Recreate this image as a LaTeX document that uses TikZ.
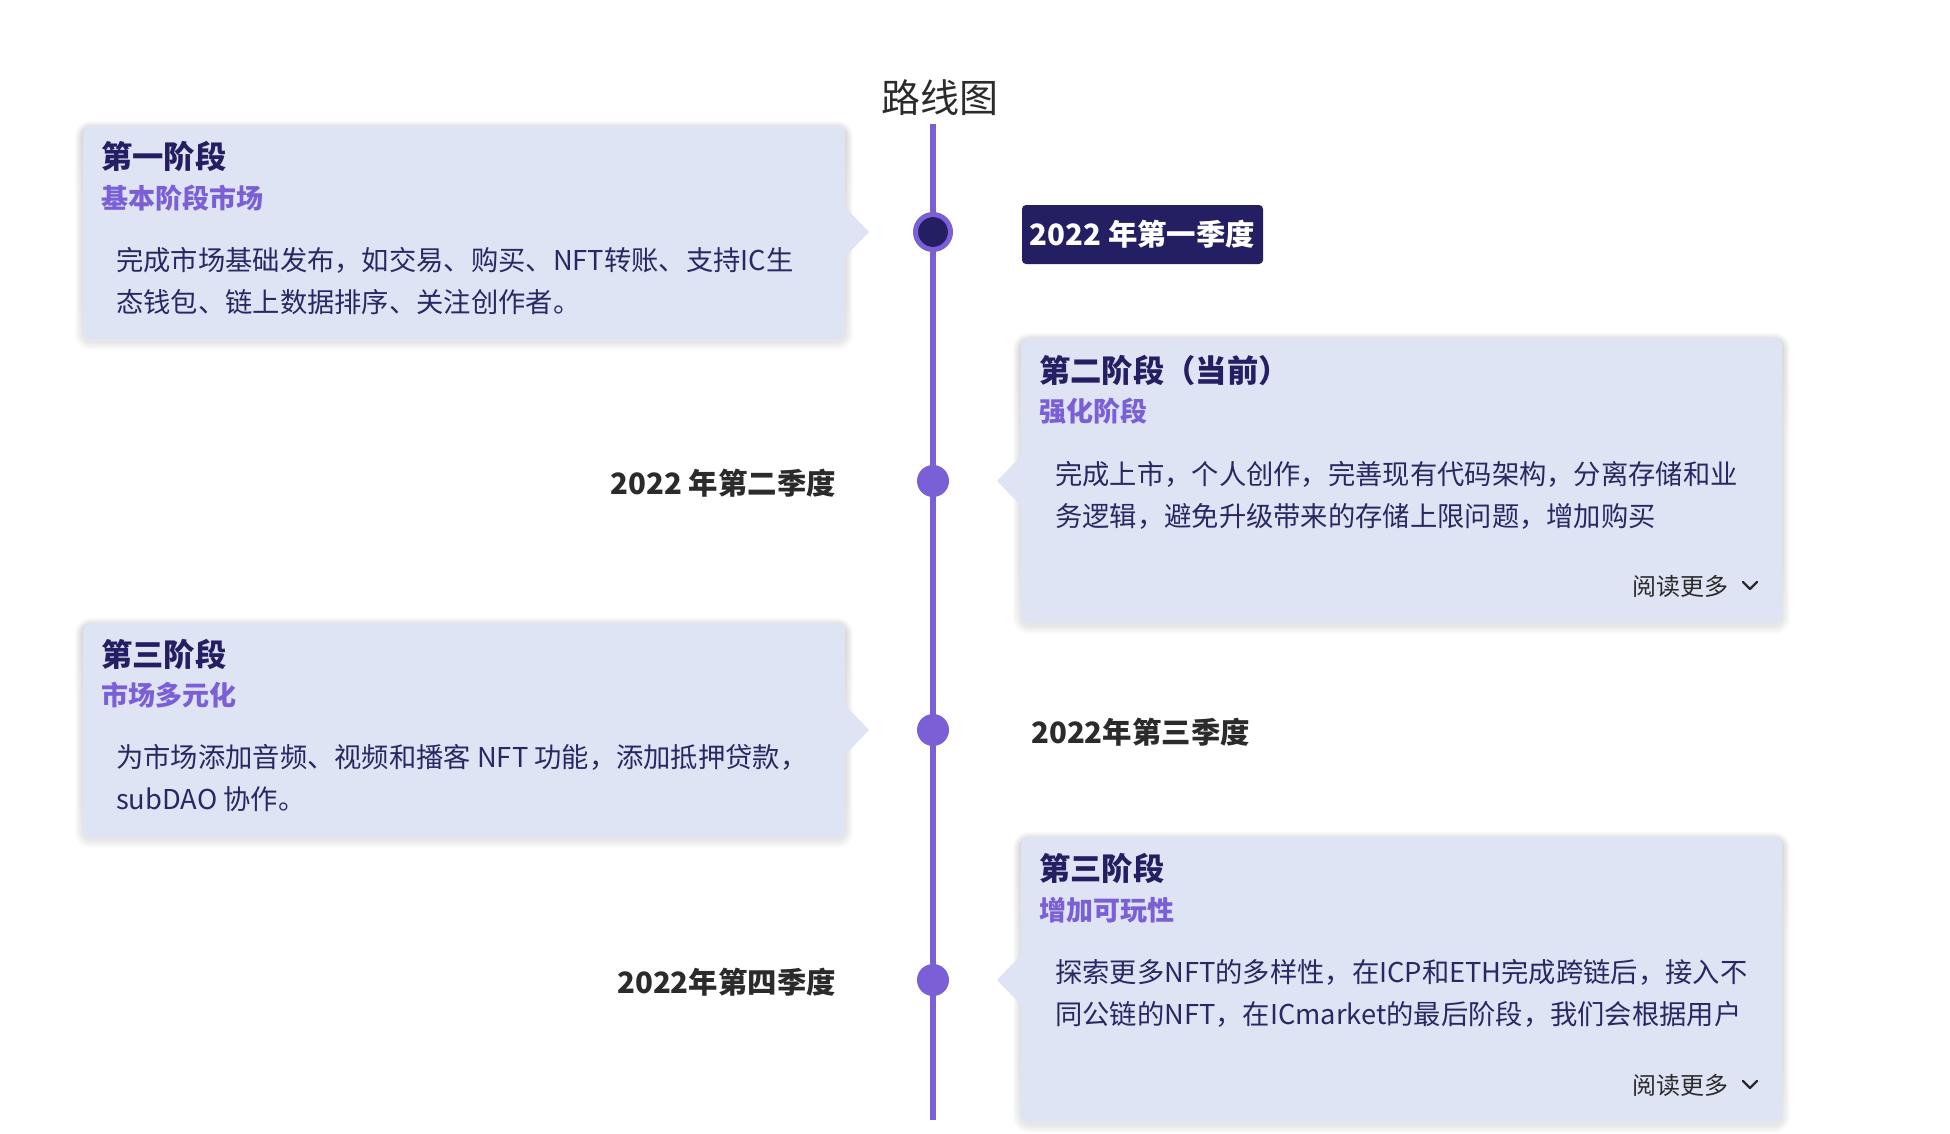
\documentclass[tikz,border=0pt]{standalone}
\usepackage{fontspec}
\setmainfont{Noto Sans CJK SC}
\definecolor{cardbg}{HTML}{DFE4F5}
\definecolor{navy}{HTML}{241F63}
\definecolor{bodytxt}{HTML}{2A2862}
\definecolor{lilac}{HTML}{7B5FD6}
\definecolor{graytxt}{HTML}{2B2B2B}
\definecolor{shade}{HTML}{5A5F7A}
\newcommand{\cardshadow}[4]{%
  \foreach \s in {1,...,8}{%
    \fill[shade, opacity=0.012, rounded corners=8pt+\s pt]
      (#1-\s,#2-\s+3) rectangle (#3+\s,#4+\s+3);
  }}
\tikzset{
  card/.style={draw=none, fill=cardbg, rounded corners=8pt, anchor=north west, inner sep=0pt},
  ptr/.style={fill=cardbg, draw=none},
  ttl/.style={anchor=west, inner sep=0pt, text=navy, font=\fontsize{31.3}{36}\selectfont\bfseries},
  sub/.style={anchor=west, inner sep=0pt, text=lilac, font=\fontsize{27}{32}\selectfont\bfseries},
  bodyln/.style={anchor=west, inner sep=0pt, text=bodytxt, font=\fontsize{27.3}{32}\selectfont},
  more/.style={anchor=east, inner sep=0pt, text=graytxt, font=\fontsize{24}{28}\selectfont},
  chev/.style={draw=graytxt, line width=2.4pt, line cap=round, line join=round},
  dotc/.style={circle, fill=lilac, minimum size=32pt, inner sep=0pt},
  datelbl/.style={inner sep=0pt, text=graytxt, font=\fontsize{29.4}{33}\selectfont\bfseries},
}
\begin{document}
\begin{tikzpicture}[x=1pt,y=-1pt]
\useasboundingbox[fill=white] (0,0) rectangle (1950,1134);
% title
\node[inner sep=0pt, text=graytxt, font=\fontsize{39}{44}\selectfont] (title) at (940,98) {路线图};
% timeline
\coordinate (ltop) at (933,124);
\coordinate (lbot) at (933,1120);
\draw[lilac, line width=6pt] (ltop) -- (lbot);

% shadows
\cardshadow{83}{126}{845}{339}
\cardshadow{1021}{338}{1782}{623}
\cardshadow{83}{623}{845}{837}
\cardshadow{1021}{837}{1782}{1122}

% ---- card 1 (left)
\node[card, minimum width=762pt, minimum height=213pt] (c1) at (83,126) {};
\fill[ptr] (844,206) -- (869,232) -- (844,258) -- cycle;
\node[ttl] (c1t) at (101,156.5) {第一阶段};
\node[sub] (c1s) at (101,198.5) {基本阶段市场};
\node[bodyln] (c1a) at (116,260.5) {完成市场基础发布，如交易、购买、NFT转账、支持IC生};
\node[bodyln] (c1b) at (116,302.5) {态钱包、链上数据排序、关注创作者。};

% ---- card 2 (right)
\node[card, minimum width=761pt, minimum height=285pt] (c2) at (1021,338) {};
\fill[ptr] (1022,455) -- (997,481) -- (1022,507) -- cycle;
\node[ttl] (c2t) at (1039,370.5) {第二阶段（当前）};
\node[sub] (c2s) at (1039,411.5) {强化阶段};
\node[bodyln] (c2a) at (1055,474.5) {完成上市，个人创作，完善现有代码架构，分离存储和业};
\node[bodyln] (c2b) at (1055,516.5) {务逻辑，避免升级带来的存储上限问题，增加购买};
\node[more] (c2m) at (1729,586) {阅读更多};
\coordinate (c2v1) at (1743,582);
\coordinate (c2v2) at (1750,589);
\coordinate (c2v3) at (1757,582);
\draw[chev] (c2v1) -- (c2v2) -- (c2v3);

% ---- card 3 (left)
\node[card, minimum width=762pt, minimum height=214pt] (c3) at (83,623) {};
\fill[ptr] (844,704) -- (869,730) -- (844,756) -- cycle;
\node[ttl] (c3t) at (101,654.5) {第三阶段};
\node[sub] (c3s) at (101,695.5) {市场多元化};
\node[bodyln] (c3a) at (116,757.5) {为市场添加音频、视频和播客 NFT 功能，添加抵押贷款，};
\node[bodyln] (c3b) at (116,799.5) {subDAO 协作。};

% ---- card 4 (right)
\node[card, minimum width=761pt, minimum height=285pt] (c4) at (1021,837) {};
\fill[ptr] (1022,954) -- (997,980) -- (1022,1006) -- cycle;
\node[ttl] (c4t) at (1039,868.5) {第三阶段};
\node[sub] (c4s) at (1039,910.5) {增加可玩性};
\node[bodyln] (c4a) at (1055,972.5) {探索更多NFT的多样性，在ICP和ETH完成跨链后，接入不};
\node[bodyln] (c4b) at (1055,1014.5) {同公链的NFT，在ICmarket的最后阶段，我们会根据用户};
\node[more] (c4m) at (1729,1085) {阅读更多};
\coordinate (c4v1) at (1743,1081);
\coordinate (c4v2) at (1750,1088);
\coordinate (c4v3) at (1757,1081);
\draw[chev] (c4v1) -- (c4v2) -- (c4v3);

% ---- dots
\node[circle, fill=navy, draw=lilac, line width=5pt, minimum size=35pt, inner sep=0pt] (d1) at (933,232) {};
\node[dotc] (d2) at (933,481) {};
\node[dotc] (d3) at (933,730) {};
\node[dotc] (d4) at (933,980) {};

% ---- date labels
\node[fill=navy, rounded corners=4pt, minimum width=241pt, minimum height=59pt, inner sep=0pt,
      text=white, font=\fontsize{29.4}{33}\selectfont\bfseries] (q1) at (1142.5,234.5) {2022 年第一季度};
\node[datelbl, anchor=east] (q2) at (836,483) {2022 年第二季度};
\node[datelbl, anchor=west] (q3) at (1031,732) {2022年第三季度};
\node[datelbl, anchor=east] (q4) at (836,982) {2022年第四季度};
\end{tikzpicture}
\end{document}
